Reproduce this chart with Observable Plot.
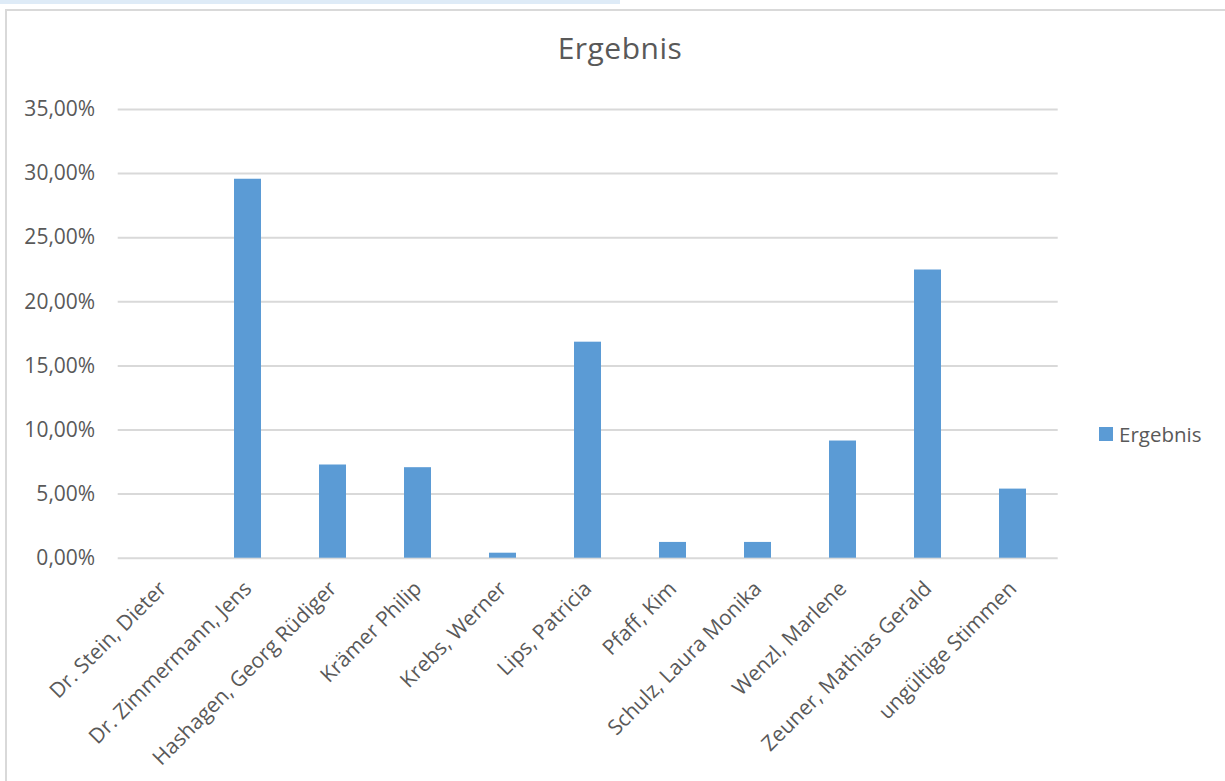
<!DOCTYPE html>
<html>
<head>
<meta charset="utf-8">
<script src="https://cdn.jsdelivr.net/npm/d3@7"></script>
<script src="https://cdn.jsdelivr.net/npm/@observablehq/plot@0.6"></script>
<style>
  html, body { margin: 0; padding: 0; background: #fff; }
  #wrap { position: relative; width: 1225px; height: 781px; overflow: hidden; font-family: "Open Sans", sans-serif; }
  #strip { position: absolute; left: 0; top: 0; width: 620px; height: 4px; background: #deebf7; }
  #frame { position: absolute; left: 5px; top: 9px; width: 1300px; height: 900px; border: 2px solid #d9d9d9; box-sizing: border-box; }
  #title { position: absolute; left: 0; width: 1240px; top: 28px; text-align: center; font-size: 30px; color: #595959; letter-spacing: 0.5px; line-height: 40px; }
  #chart { position: absolute; left: 0; top: 90px; }
  #legend { position: absolute; left: 1099px; top: 420px; display: flex; align-items: center; font-size: 20.5px; color: #595959; line-height: 28px; }
  #legend span.sw { display: inline-block; width: 14px; height: 14px; background: #5b9bd5; margin-right: 6px; }
</style>
</head>
<body>
<div id="wrap">
  <div id="strip"></div>
  <div id="frame"></div>
  <div id="title">Ergebnis</div>
  <div id="chart"></div>
  <div id="legend"><span class="sw"></span><span>Ergebnis</span></div>
</div>
<script>
const candidates = [
  "Dr. Stein, Dieter",
  "Dr. Zimmermann, Jens",
  "Hashagen, Georg Rüdiger",
  "Krämer Philip",
  "Krebs, Werner",
  "Lips, Patricia",
  "Pfaff, Kim",
  "Schulz, Laura Monika",
  "Wenzl, Marlene",
  "Zeuner, Mathias Gerald",
  "ungültige Stimmen"
];
const ergebnis = [0, 0.2956, 0.0727, 0.0706, 0.0039, 0.1685, 0.0123, 0.0123, 0.0914, 0.2248, 0.0539];
const yTicks = [0, 0.05, 0.10, 0.15, 0.20, 0.25, 0.30, 0.35];
const seriesName = "Ergebnis";

const data = candidates.map((c, i) => ({name: c, value: ergebnis[i]}));
const fmt = d => (d * 100).toFixed(2).replace(".", ",") + "%";

const chart = Plot.plot({
  width: 1060,
  height: 670,
  marginLeft: 117.7,
  marginRight: 2.3,
  marginTop: 19,
  marginBottom: 202.3,
  style: {fontFamily: "'Open Sans', sans-serif", fontSize: "21px", color: "#595959", background: "transparent", overflow: "visible"},
  x: {domain: candidates, paddingInner: 0.684, paddingOuter: 0.342, label: null},
  y: {domain: [0, 0.35], label: null},
  marks: [
    Plot.ruleY(yTicks, {stroke: "#d9d9d9", strokeWidth: 2}),
    Plot.barY(data, {x: "name", y: "value", fill: "#5b9bd5"}),
    Plot.axisY({ticks: yTicks, tickFormat: fmt, tickSize: 0, tickPadding: 23, label: null, fill: "#595959", fontSize: 21}),
    Plot.axisX({tickSize: 0, tickRotate: -45, tickPadding: 27, label: null, fill: "#595959", fontSize: 21})
  ]
});
document.getElementById("chart").appendChild(chart);
</script>
</body>
</html>
